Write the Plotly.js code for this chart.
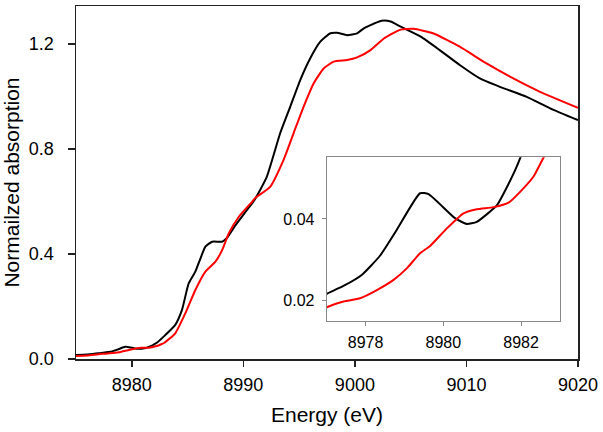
<!DOCTYPE html>
<html>
<head>
<meta charset="utf-8">
<script src="https://cdn.plot.ly/plotly-3.0.1.min.js"></script>
<style>html,body{margin:0;padding:0;background:#fff;}#chart{width:603px;height:432px;}</style>
</head>
<body>
<div id="chart"></div>
<script>
// Black spectrum
const energyBlack = [8975.0, 8976.0, 8977.0, 8977.43, 8977.9, 8978.37, 8978.8, 8979.4, 8979.62, 8980.3, 8980.6, 8980.86, 8981.38, 8981.64, 8981.85, 8982.0, 8982.3, 8983.0, 8983.9, 8984.5, 8985.1, 8985.7, 8986.1, 8986.6, 8987.2, 8988.1, 8988.5, 8989.3, 8990.2, 8991.0, 8992.1, 8993.3, 8994.2, 8995.1, 8996.0, 8996.9, 8997.8, 8998.4, 8999.3, 9000.2, 9000.8, 9001.7, 9002.4, 9003.2, 9004.1, 9005.9, 9007.6, 9009.4, 9011.2, 9013.0, 9015.4, 9017.5, 9020.0];
const absBlack = [0.015, 0.017, 0.0217, 0.0236, 0.0263, 0.031, 0.0373, 0.0463, 0.0461, 0.0402, 0.0388, 0.0393, 0.0434, 0.0479, 0.052, 0.0555, 0.064, 0.091, 0.13, 0.187, 0.288, 0.333, 0.377, 0.428, 0.447, 0.447, 0.46, 0.51, 0.561, 0.606, 0.694, 0.86, 0.961, 1.063, 1.146, 1.209, 1.241, 1.243, 1.234, 1.241, 1.26, 1.278, 1.289, 1.286, 1.266, 1.228, 1.177, 1.12, 1.069, 1.037, 0.999, 0.955, 0.91];
// Red spectrum
const energyRed = [8975.0, 8976.0, 8977.0, 8977.43, 8977.86, 8978.29, 8978.72, 8979.06, 8979.4, 8979.66, 8980.09, 8980.52, 8980.86, 8981.29, 8981.68, 8982.06, 8982.32, 8982.58, 8982.9, 8983.9, 8984.8, 8985.7, 8986.6, 8987.5, 8988.1, 8988.7, 8989.6, 8990.8, 8991.05, 8992.4, 8993.6, 8994.5, 8995.4, 8996.3, 8997.2, 8998.1, 8999.3, 9000.2, 9001.4, 9002.6, 9004.1, 9005.25, 9007.0, 9009.4, 9011.8, 9014.2, 9016.6, 9020.0];
const absRed = [0.011, 0.013, 0.0184, 0.0198, 0.0206, 0.0226, 0.0251, 0.0279, 0.0316, 0.0334, 0.0377, 0.0414, 0.0424, 0.0429, 0.044, 0.0475, 0.0504, 0.0551, 0.061, 0.098, 0.174, 0.263, 0.333, 0.371, 0.415, 0.479, 0.542, 0.60, 0.613, 0.656, 0.758, 0.86, 0.961, 1.05, 1.107, 1.133, 1.139, 1.149, 1.177, 1.221, 1.255, 1.258, 1.241, 1.19, 1.126, 1.069, 1.018, 0.957];

const mainXTicks = [8980, 8990, 9000, 9010, 9020];
const mainYTicks = [0.0, 0.4, 0.8, 1.2];
const insetXTicks = [8978, 8980, 8982];
const insetYTicks = [0.02, 0.04];

const FONT = '"Liberation Sans", Arial, sans-serif';
const LINE = (c) => ({color: c, width: 2, shape: 'spline', smoothing: 0.5});

const traces = [
  {x: energyBlack, y: absBlack, type: 'scatter', mode: 'lines', line: LINE('#000000'), xaxis: 'x', yaxis: 'y', hoverinfo: 'skip'},
  {x: energyRed, y: absRed, type: 'scatter', mode: 'lines', line: LINE('#ff0000'), xaxis: 'x', yaxis: 'y', hoverinfo: 'skip'},
  {x: energyBlack, y: absBlack, type: 'scatter', mode: 'lines', line: LINE('#000000'), xaxis: 'x2', yaxis: 'y2', hoverinfo: 'skip'},
  {x: energyRed, y: absRed, type: 'scatter', mode: 'lines', line: LINE('#ff0000'), xaxis: 'x2', yaxis: 'y2', hoverinfo: 'skip'}
];

const layout = {
  width: 603, height: 432,
  margin: {l: 76, r: 25, t: 6, b: 73},
  paper_bgcolor: '#ffffff', plot_bgcolor: '#ffffff',
  showlegend: false,
  font: {family: FONT, color: '#000000', size: 18},
  xaxis: {
    domain: [0, 1], range: [8975, 9020], anchor: 'y',
    tickmode: 'array', tickvals: mainXTicks, ticktext: mainXTicks.map(String),
    ticks: 'outside', ticklen: 6, tickwidth: 1.5, tickcolor: '#222',
    showline: true, linecolor: '#222', linewidth: 1.5, mirror: true,
    showgrid: false, zeroline: false, ticklabelstandoff: 3,
    tickfont: {family: FONT, size: 18, color: '#000'},
    title: {text: 'Energy (eV)', font: {family: FONT, size: 21, color: '#000'}, standoff: 13}
  },
  yaxis: {
    domain: [0, 1], range: [0, 1.345], anchor: 'x',
    tickmode: 'array', tickvals: mainYTicks, ticktext: mainYTicks.map(v => v.toFixed(1)),
    ticks: 'outside', ticklen: 7, tickwidth: 1.5, tickcolor: '#222',
    showline: true, linecolor: '#222', linewidth: 1.5, mirror: true,
    showgrid: false, zeroline: false, ticklabelstandoff: 10,
    tickfont: {family: FONT, size: 18, color: '#000'},
    title: {text: 'Normailzed absorption', font: {family: FONT, size: 21, color: '#000'}, standoff: 6}
  },
  xaxis2: {
    domain: [0.4994, 0.9641], range: [8977, 8983], anchor: 'y2',
    tickmode: 'array', tickvals: insetXTicks, ticktext: insetXTicks.map(String),
    ticks: 'outside', ticklen: 4, tickwidth: 1, tickcolor: '#888',
    showline: true, linecolor: '#888', linewidth: 1, mirror: true,
    showgrid: false, zeroline: false, ticklabelstandoff: 3,
    tickfont: {family: FONT, size: 16, color: '#000'}
  },
  yaxis2: {
    domain: [0.1085, 0.5714], range: [0.0151, 0.0551], anchor: 'x2',
    tickmode: 'array', tickvals: insetYTicks, ticktext: insetYTicks.map(v => v.toFixed(2)),
    ticks: 'outside', ticklen: 4, tickwidth: 1, tickcolor: '#888',
    showline: true, linecolor: '#888', linewidth: 1, mirror: true,
    showgrid: false, zeroline: false, ticklabelstandoff: 4,
    tickfont: {family: FONT, size: 16, color: '#000'}
  }
};

Plotly.newPlot('chart', traces, layout, {staticPlot: true, displayModeBar: false});
</script>
</body>
</html>
